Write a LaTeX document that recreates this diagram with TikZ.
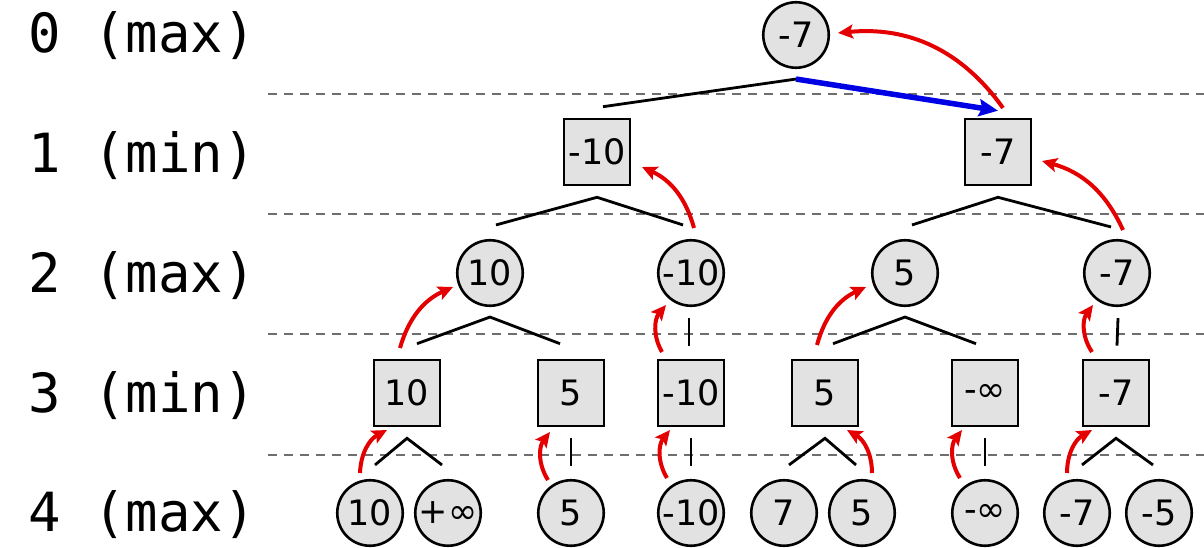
\documentclass[tikz,border=0pt]{standalone}
\usepackage{fontspec}
\setmainfont{DejaVu Sans}
\newfontfamily\labfont{DejaVu Sans Mono}
\usetikzlibrary{arrows.meta,calc}
\definecolor{nodefill}{RGB}{226,226,226}
\definecolor{dashgray}{RGB}{110,110,110}
\definecolor{arrred}{RGB}{228,0,0}
\definecolor{arrblue}{RGB}{0,0,228}
\tikzset{
  maxnode/.style={circle,draw=black,line width=2.6pt,fill=nodefill,minimum size=65.5pt,inner sep=0pt,font=\fontsize{35}{35}\selectfont},
  minnode/.style={rectangle,draw=black,line width=2.6pt,fill=nodefill,minimum size=66pt,inner sep=0pt,font=\fontsize{35}{35}\selectfont},
  levlab/.style={anchor=base west,inner sep=0pt,font=\labfont\fontsize{54}{54}\selectfont},
  levline/.style={draw=dashgray,line width=2.2pt,dash pattern=on 9pt off 7pt},
  tent/.style={draw=black,line width=2.8pt},
  upd/.style={draw=arrred,line width=4pt,-{Stealth[length=15pt,width=14pt,inset=3pt]}},
  pick/.style={draw=arrblue,line width=5.5pt,-{Stealth[length=19pt,width=17pt,inset=3pt]}}
}
\begin{document}
\begin{tikzpicture}[x=1pt,y=-1pt]
\useasboundingbox (0,0) rectangle (1204,548);
% level labels
\node[levlab] (l0) at (28,53) {0 (max)};
\node[levlab] (l1) at (28,173) {1 (min)};
\node[levlab] (l2) at (28,292) {2 (max)};
\node[levlab] (l3) at (28,412) {3 (min)};
\node[levlab] (l4) at (28,531) {4 (max)};
% dashed separators
\coordinate (s1a) at (268,94);  \coordinate (s1b) at (1204,94);
\coordinate (s2a) at (268,214); \coordinate (s2b) at (1204,214);
\coordinate (s3a) at (268,334); \coordinate (s3b) at (1204,334);
\coordinate (s4a) at (268,455); \coordinate (s4b) at (1204,455);
\draw[levline] (s1a) -- (s1b);
\draw[levline] (s2a) -- (s2b);
\draw[levline] (s3a) -- (s3b);
\draw[levline] (s4a) -- (s4b);
% nodes
\node[maxnode] (r) at (796,35) {-7};
\node[minnode] (a) at (597,152) {-10};
\node[minnode] (b) at (998,152) {-7};
\node[maxnode] (c) at (490,273) {10};
\node[maxnode] (d) at (691,273) {-10};
\node[maxnode] (e) at (905,273) {5};
\node[maxnode] (f) at (1117,273) {-7};
\node[minnode] (g) at (407,393) {10};
\node[minnode] (h) at (571,393) {5};
\node[minnode] (i) at (691,393) {-10};
\node[minnode] (j) at (825,393) {5};
\node[minnode] (k) at (985,393) {-∞};
\node[minnode] (l) at (1116,393) {-7};
\node[maxnode] (m) at (370,513) {10};
\node[maxnode] (n) at (448,513) {+∞};
\node[maxnode] (o) at (571,513) {5};
\node[maxnode] (p) at (691,513) {-10};
\node[maxnode] (q) at (784,513) {7};
\node[maxnode] (s) at (862,513) {5};
\node[maxnode] (t) at (985,513) {-∞};
\node[maxnode] (u) at (1077,513) {-7};
\node[maxnode] (v) at (1159,513) {-5};
% tents (two children)
\draw[tent] ($(a.north)+(6,-11)$) -- ($(r.south)+(0,10)$);
\draw[tent] ($(c.north)+(6,-14)$) -- ($(a.south)+(0,11)$) -- ($(d.north)+(-8,-14)$);
\draw[tent] ($(e.north)+(7,-14)$) -- ($(b.south)+(0,11)$) -- ($(f.north)+(-6,-12)$);
\draw[tent] ($(g.north)+(10,-15)$) -- ($(c.south)+(0,10)$) -- ($(h.north)+(-11,-15)$);
\draw[tent] ($(j.north)+(8,-15)$) -- ($(e.south)+(0,10)$) -- ($(k.north)+(-9,-15)$);
\draw[tent] ($(m.north)+(5,-14)$) -- ($(g.south)+(0,11)$) -- ($(n.north)+(-6,-14)$);
\draw[tent] ($(q.north)+(5,-14)$) -- ($(j.south)+(0,11)$) -- ($(s.north)+(-6,-14)$);
\draw[tent] ($(u.north)+(5,-14)$) -- ($(l.south)+(0,11)$) -- ($(v.north)+(-6,-14)$);
% ticks (single child)
\draw[tent] ($(d.south)+(-2,11)$) -- ($(i.north)+(-2,-13)$);
\draw[tent] ($(f.south)+(1,11)$) -- ($(l.north)+(1,-13)$);
\draw[tent] ($(h.south)+(0,11)$) -- ($(o.north)+(0,-13)$);
\draw[tent] ($(i.south)+(0,11)$) -- ($(p.north)+(0,-13)$);
\draw[tent] ($(k.south)+(0,11)$) -- ($(t.north)+(0,-13)$);
% chosen move
\draw[pick] ($(r.south)+(0,10)$) -- ($(b.north)+(0,-7)$);
% value propagation arrows
\draw[upd] ($(m.center)+(-10,-40)$) to[bend left=30] ($(g.center)+(-20,37)$);
\draw[upd] ($(o.center)+(-23,-33)$) to[bend left=35] ($(h.center)+(-21,39)$);
\draw[upd] ($(p.center)+(-24,-35)$) to[bend left=35] ($(i.center)+(-21,37)$);
\draw[upd] ($(s.center)+(10,-40)$) to[bend right=30] ($(j.center)+(22,37)$);
\draw[upd] ($(t.center)+(-25,-35)$) to[bend left=35] ($(k.center)+(-23,37)$);
\draw[upd] ($(u.center)+(-10,-40)$) to[bend left=30] ($(l.center)+(-24,37)$);
\draw[upd] ($(g.center)+(-7,-45)$) to[bend left=25] ($(c.center)+(-37,14)$);
\draw[upd] ($(i.center)+(-29,-41)$) to[bend left=35] ($(d.center)+(-25,32)$);
\draw[upd] ($(j.center)+(-8,-48)$) to[bend left=25] ($(e.center)+(-39,14)$);
\draw[upd] ($(l.center)+(-24,-41)$) to[bend left=35] ($(f.center)+(-24,32)$);
\draw[upd] ($(d.center)+(3,-45)$) to[bend right=25] ($(a.center)+(45,15)$);
\draw[upd] ($(f.center)+(6,-43)$) to[bend right=25] ($(b.center)+(44,9)$);
\draw[upd] ($(b.center)+(5,-44)$) to[bend right=30] ($(r.center)+(42,-2)$);
\end{tikzpicture}
\end{document}
